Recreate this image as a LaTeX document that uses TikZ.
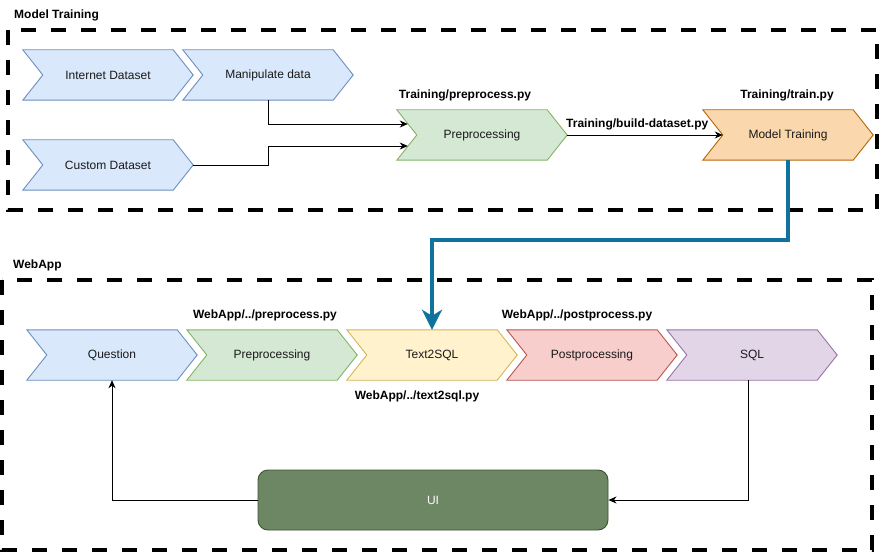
\documentclass[tikz,border=0pt]{standalone}
\usepackage{fontspec}
\setmainfont{Liberation Sans}
\usetikzlibrary{arrows.meta}
\definecolor{bluef}{HTML}{DAE8FC}\definecolor{blued}{HTML}{6C8EBF}
\definecolor{greenf}{HTML}{D5E8D4}\definecolor{greend}{HTML}{82B366}
\definecolor{orangef}{HTML}{FAD7AC}\definecolor{oranged}{HTML}{B46504}
\definecolor{yellowf}{HTML}{FFF2CC}\definecolor{yellowd}{HTML}{D6B656}
\definecolor{redf}{HTML}{F8CECC}\definecolor{redd}{HTML}{B85450}
\definecolor{purplef}{HTML}{E1D5E7}\definecolor{purpled}{HTML}{9673A6}
\definecolor{uif}{HTML}{6D8764}\definecolor{uid}{HTML}{3A5431}
\definecolor{flow}{HTML}{10739E}
\newcommand{\chevshape}[2]{%
  \draw[#2, line width=0.9pt, line join=miter] (#1.north west) -- ([xshift=-20pt]#1.north east) -- (#1.east)
    -- ([xshift=-20pt]#1.south east) -- (#1.south west) -- ([xshift=20pt]#1.west) -- cycle;}
\tikzset{
  chev/.style={minimum width=170pt, minimum height=50pt, inner sep=0pt, font=\fontsize{12}{14}\selectfont, text=black!90},
  lbl/.style={font=\bfseries\fontsize{12}{14}\selectfont, inner sep=0pt},
  group/.style={line width=4.5pt, dash pattern=on 15pt off 15pt},
  conn/.style={line width=0.9pt, -{Stealth[length=8pt,width=7pt,inset=2.5pt]}},
}
\begin{document}
\begin{tikzpicture}[x=1pt,y=-1pt]
\useasboundingbox (0,0) rectangle (888,553);
% group frames
\draw[group] (8,30) rectangle (877,210);
\draw[group] (2,280) rectangle (872,550);
\node[lbl, anchor=west] (tmt) at (14,15) {Model Training};
\node[lbl, anchor=west] (twa) at (13,265) {WebApp};
% top chevrons
\node[chev] (inet) at (108,75) {};
\node[chev] (manip) at (268,75) {};
\node[chev] (custom) at (108,165) {};
\node[chev] (prep1) at (482,135) {};
\node[chev] (mtrain) at (788,135) {};
\chevshape{inet}{fill=bluef, draw=blued}
\chevshape{manip}{fill=bluef, draw=blued}
\chevshape{custom}{fill=bluef, draw=blued}
\chevshape{prep1}{fill=greenf, draw=greend}
\chevshape{mtrain}{fill=orangef, draw=oranged}
\node[chev] at (inet) {Internet Dataset};
\node[chev] at (manip) {Manipulate data};
\node[chev] at (custom) {Custom Dataset};
\node[chev] at (prep1) {Preprocessing};
\node[chev] at (mtrain) {Model Training};
\node[lbl] (lp1) at (465,95) {Training/preprocess.py};
\node[lbl] (ltr) at (787,95) {Training/train.py};
% bottom chevrons
\node[chev] (question) at (112,355) {};
\node[chev] (prep2) at (272,355) {};
\node[chev] (t2s) at (432,355) {};
\node[chev] (post) at (592,355) {};
\node[chev] (sql) at (752,355) {};
\chevshape{question}{fill=bluef, draw=blued}
\chevshape{prep2}{fill=greenf, draw=greend}
\chevshape{t2s}{fill=yellowf, draw=yellowd}
\chevshape{post}{fill=redf, draw=redd}
\chevshape{sql}{fill=purplef, draw=purpled}
\node[chev] at (question) {Question};
\node[chev] at (prep2) {Preprocessing};
\node[chev] at (t2s) {Text2SQL};
\node[chev] at (post) {Postprocessing};
\node[chev] at (sql) {SQL};
\node[lbl] (lp2) at (265,315) {WebApp/../preprocess.py};
\node[lbl] (lpo) at (577,315) {WebApp/../postprocess.py};
\node[lbl] (lts) at (417,396) {WebApp/../text2sql.py};
% UI
\node[draw=uid, fill=uif, line width=0.9pt, rounded corners=10pt, minimum width=350pt, minimum height=60pt,
  font=\fontsize{12}{14}\selectfont, text=white] (ui) at (433,500) {UI};
% connectors
\coordinate (p1in) at ([xshift=11pt,yshift=11pt]prep1.west);
\coordinate (p2in) at ([xshift=11pt,yshift=-11pt]prep1.west);
\draw[conn] (manip.south) |- (p1in);
\draw[conn] (custom.east) -- ++(75,0) |- (p2in);
\draw[conn] (prep1.east) -- ([xshift=20pt]mtrain.west)
  node[lbl, pos=0.45, above=5pt] (lbd) {Training/build-dataset.py};
\draw[line width=4pt, draw=flow, -{Stealth[length=20pt,width=20pt,inset=6pt]}]
  (mtrain.south) -- ++(0,80) -| (t2s.north);
\draw[conn] ([xshift=-4pt]sql.south) |- (ui.east);
\draw[conn] (ui.west) -| (question.south);
\end{tikzpicture}
\end{document}
